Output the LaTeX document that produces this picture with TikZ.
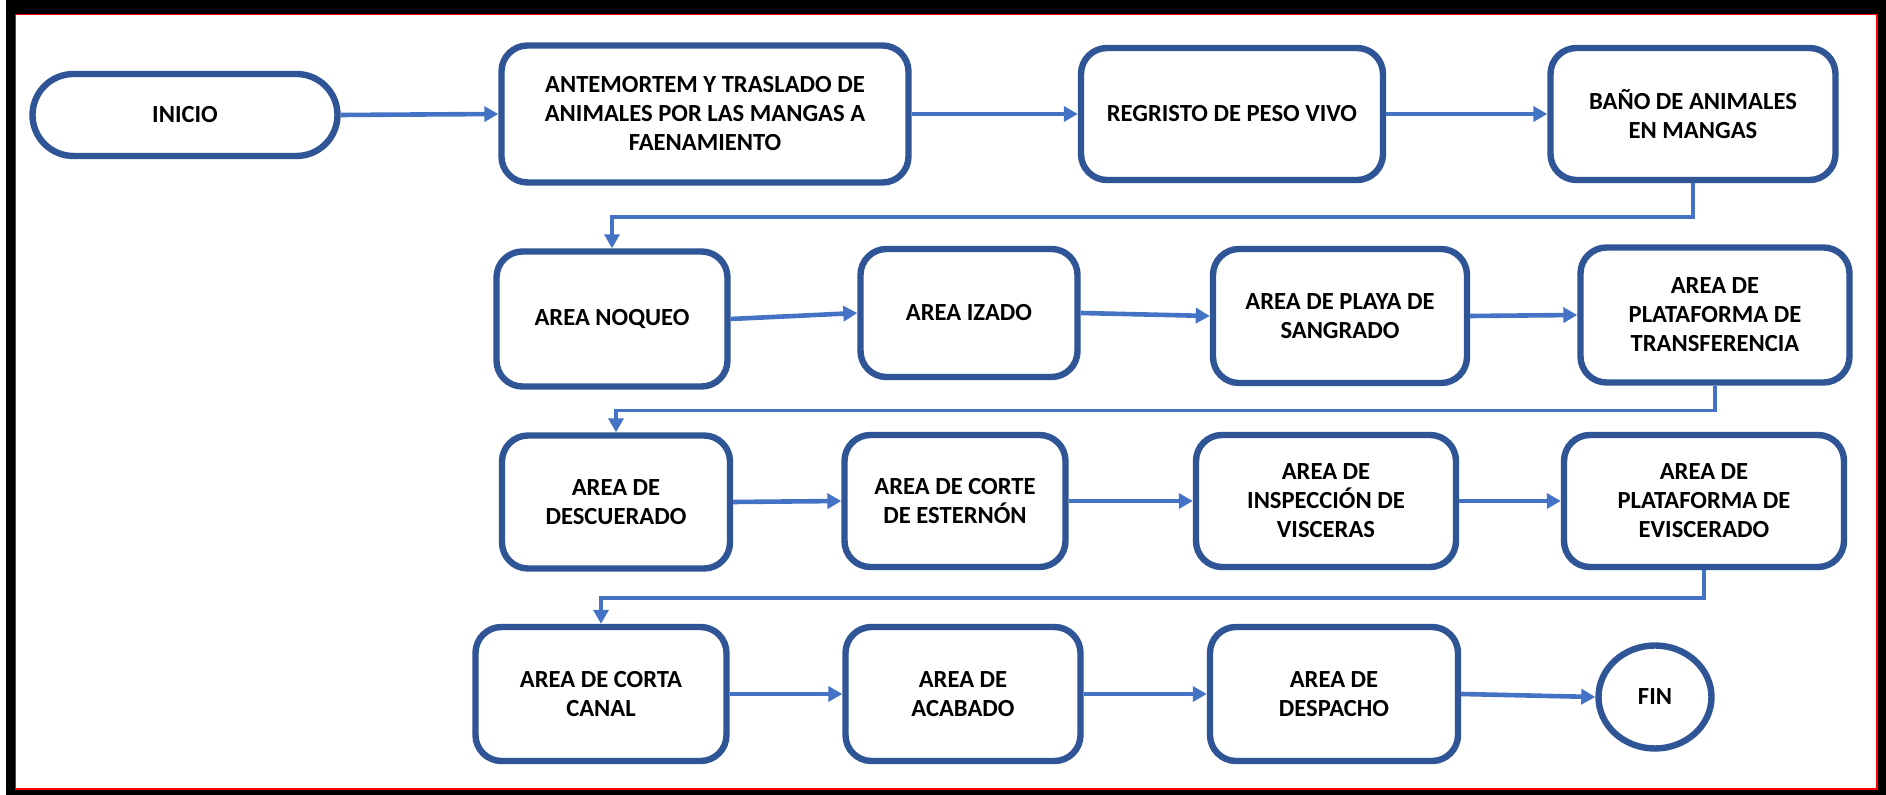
\documentclass[tikz,border=0pt]{standalone}
\usepackage{fontspec}
\setmainfont{Carlito}
\usetikzlibrary{arrows.meta,shapes.geometric}
\definecolor{boxblue}{HTML}{2F5597}
\definecolor{arrowblue}{HTML}{4472C4}
\begin{document}
\begin{tikzpicture}[x=0.5pt,y=-0.5pt,
  stepbox/.style={draw=boxblue, line width=3.2pt, rounded corners=13pt, fill=white,
    align=center, inner sep=0pt, font=\bfseries\fontsize{12.3}{14.5}\selectfont},
  sz/.style 2 args={minimum width={#1*0.5pt}, minimum height={#2*0.5pt}},
  terminal/.style={stepbox, rounded corners=20.5pt},
  endcircle/.style={stepbox, ellipse},
  arr/.style={draw=arrowblue, line width=2.3pt, -{Triangle[length=7pt,width=7.5pt]}},
  elbow/.style={arr, line width=1.8pt}]
% page frame
\useasboundingbox (0,0) rectangle (1886,795);
\fill[white] (0,0) rectangle (1886,795);
\fill[black] (6,0) rectangle (1886,795);
\fill[white] (15,14) rectangle (1877,789);
\draw[red, line width=0.7pt] (15.5,14.5) rectangle (1877,789);

% row 1
\node[terminal, sz={305}{82}] (inicio) at (185,115) {INICIO};
\node[stepbox, sz={407}{137}] (ante) at (705,114) {ANTEMORTEM Y TRASLADO DE\\ANIMALES POR LAS MANGAS A\\FAENAMIENTO};
\node[stepbox, sz={302}{132}] (peso) at (1232,114) {REGRISTO DE PESO VIVO};
\node[stepbox, sz={285}{132}] (bano) at (1693,114) {BAÑO DE ANIMALES\\EN MANGAS};

% row 2
\node[stepbox, sz={231}{135}] (noqueo) at (612,319) {AREA NOQUEO};
\node[stepbox, sz={217}{128}] (izado) at (969,313) {AREA IZADO};
\node[stepbox, sz={254}{134}] (playa) at (1340,316) {AREA DE PLAYA DE\\SANGRADO};
\node[stepbox, sz={269}{135}] (transf) at (1715,315) {AREA DE\\PLATAFORMA DE\\TRANSFERENCIA};

% row 3
\node[stepbox, sz={228}{133}] (descu) at (616,502) {AREA DE\\DESCUERADO};
\node[stepbox, sz={221}{132}] (ester) at (955,501) {AREA DE CORTE\\DE ESTERNÓN};
\node[stepbox, sz={260}{132}] (insp) at (1326,501) {AREA DE\\INSPECCIÓN DE\\VISCERAS};
\node[stepbox, sz={280}{132}] (evisc) at (1704,501) {AREA DE\\PLATAFORMA DE\\EVISCERADO};

% row 4
\node[stepbox, sz={251}{134}] (corta) at (601,694) {AREA DE CORTA\\CANAL};
\node[stepbox, sz={235}{134}] (acab) at (963,694) {AREA DE\\ACABADO};
\node[stepbox, sz={248}{134}] (desp) at (1334,694) {AREA DE\\DESPACHO};
\node[endcircle, sz={113}{103}] (fin) at (1655,697) {FIN};

% straight links
\draw[arr] (inicio.east) -- (ante.west);
\draw[arr] (ante.east) -- (peso.west);
\draw[arr] (peso.east) -- (bano.west);
\draw[arr] (noqueo.east) -- (izado.west);
\draw[arr] (izado.east) -- (playa.west);
\draw[arr] (playa.east) -- (transf.west);
\draw[arr] (descu.east) -- (ester.west);
\draw[arr] (ester.east) -- (insp.west);
\draw[arr] (insp.east) -- (evisc.west);
\draw[arr] (corta.east) -- (acab.west);
\draw[arr] (acab.east) -- (desp.west);
\draw[arr] (desp.east) -- (fin.west);

% row-to-row links
\draw[elbow] (bano.south) -- ++(0,34) -| (noqueo.north);
\draw[elbow] (transf.south) -- ++(0,25) -| (descu.north);
\draw[elbow] (evisc.south) -- ++(0,28) -| (corta.north);
\end{tikzpicture}
\end{document}
